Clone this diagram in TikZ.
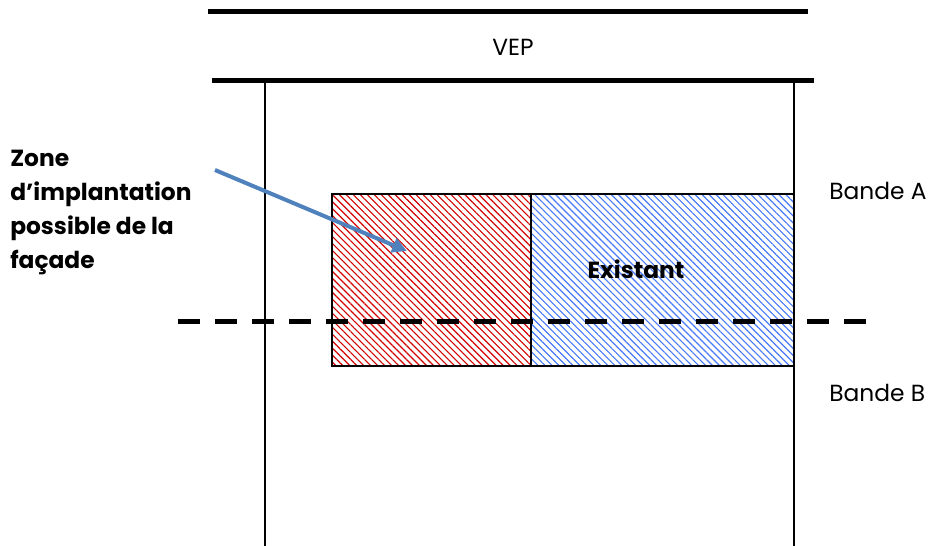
\documentclass[tikz,border=0pt]{standalone}
\usepackage{fontspec}
\setmainfont{Poppins}
\usetikzlibrary{patterns.meta,arrows.meta}
\definecolor{arrowblue}{RGB}{79,129,189}
\definecolor{hatchred}{RGB}{210,0,0}
\definecolor{hatchblue}{RGB}{70,120,250}
\tikzset{
  road/.style={line width=3.75pt},
  wall/.style={line width=1pt},
  zone/.style={draw=black, line width=1pt},
  band/.style={line width=3.75pt, dash pattern=on 16.5pt off 11.25pt},
  lbl/.style={font=\fontsize{17.5pt}{21pt}\selectfont, inner sep=0pt},
  hatch/.style={pattern={Lines[angle=-45, distance=3.7pt, line width=0.85pt]}, pattern color=#1},
}
\begin{document}
\begin{tikzpicture}[x=0.75pt, y=-0.75pt]
\useasboundingbox (0,0) rectangle (936,546);
% roads
\coordinate (r1a) at (208,11); \coordinate (r1b) at (808,11);
\coordinate (r2a) at (212,80); \coordinate (r2b) at (814,80);
\draw[road] (r1a) -- (r1b);
\draw[road] (r2a) -- (r2b);
\node[lbl] (vep) at (513,47) {VEP};
% walls
\coordinate (wl1) at (265,80); \coordinate (wl2) at (265,546);
\coordinate (wr1) at (794,80); \coordinate (wr2) at (794,546);
\draw[wall] (wl1) -- (wl2);
\draw[wall] (wr1) -- (wr2);
% zones
\draw[zone, hatch=hatchred] (332,194) rectangle (531,366);
\draw[zone, hatch=hatchblue] (531,194) rectangle (794,366);
\node[lbl, font=\fontsize{17.5pt}{21pt}\selectfont\bfseries] (exist) at (636,269) {Existant};
% band line
\coordinate (ba) at (178,321); \coordinate (bb) at (875,321);
\draw[band] (ba) -- (bb);
\node[lbl, anchor=west] (bandeA) at (829,191) {Bande A};
\node[lbl, anchor=west] (bandeB) at (829,393) {Bande B};
% left label
\node[lbl, anchor=north west, align=left, font=\fontsize{17.5pt}{25.5pt}\selectfont\bfseries] (zone) at (10,150)
  {Zone\\d’implantation\\possible de la\\façade};
\coordinate (as) at (215,170);
\coordinate (ae) at (407,251);
\draw[arrowblue, line width=3pt, -{Triangle[length=11pt,width=11pt]}] (as) -- (ae);
\end{tikzpicture}
\end{document}
